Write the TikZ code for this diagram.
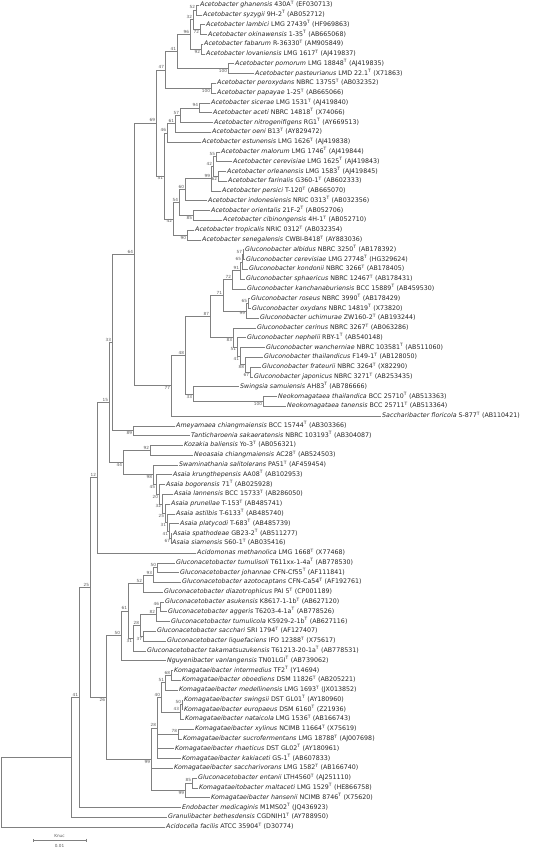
\documentclass[tikz,border=0pt]{standalone}
\usepackage{fontspec}
\setmainfont{DejaVu Sans}
\usetikzlibrary{arrows.meta}
\newcommand{\taxon}[3]{\textit{#1} #2\textsuperscript{T} (#3)}

\begin{document}
\begin{tikzpicture}[
	x=1pt, y=-1pt,
	branch/.style={ draw=black!50, line width=0.45pt },
	leaf/.style={ anchor=west, inner xsep=1.2pt, inner ysep=0pt, text=black!85, font=\fontsize{6.3}{7}\selectfont, text height=4.6pt, text depth=1.3pt },
	bs/.style={ inner sep=0.8pt, text=black!65, font=\fontsize{4.2}{4.2}\selectfont }
]
\useasboundingbox (0,0) rectangle (550,848);

% Acetobacter
\node[leaf] (ghanensis) at (198.8,5.0) {\taxon{Acetobacter ghanensis}{430A}{EF030713}};
\node[leaf] (syzygii) at (201.8,14.8) {\taxon{Acetobacter syzygii}{9H-2}{AB052712}};
\node[leaf] (lambici) at (204.8,24.6) {\taxon{Acetobacter lambici}{LMG 27439}{HF969863}};
\node[leaf] (okinawensis) at (206.8,34.4) {\taxon{Acetobacter okinawensis}{1-35}{AB665068}};
\node[leaf] (fabarum) at (202.8,44.1) {\taxon{Acetobacter fabarum}{R-36330}{AM905849}};
\node[leaf] (lovaniensis) at (204.8,53.9) {\taxon{Acetobacter lovaniensis}{LMG 1617}{AJ419837}};
\node[leaf] (pomorum) at (233.8,63.7) {\taxon{Acetobacter pomorum}{LMG 18848}{AJ419835}};
\node[leaf] (pasteurianus) at (253.8,73.5) {\taxon{Acetobacter pasteurianus}{LMD 22.1}{X71863}};
\node[leaf] (peroxydans) at (215.8,83.3) {\taxon{Acetobacter peroxydans}{NBRC 13755}{AB032352}};
\node[leaf] (papayae) at (215.8,93.1) {\taxon{Acetobacter papayae}{1-25}{AB665066}};
\node[leaf] (sicerae) at (209.8,102.9) {\taxon{Acetobacter sicerae}{LMG 1531}{AJ419840}};
\node[leaf] (aceti) at (211.8,112.6) {\taxon{Acetobacter aceti}{NBRC 14818}{X74066}};
\node[leaf] (nitrogenifigens) at (212.8,122.4) {\taxon{Acetobacter nitrogenifigens}{RG1}{AY669513}};
\node[leaf] (oeni) at (210.8,132.2) {\taxon{Acetobacter oeni}{B13}{AY829472}};
\node[leaf] (estunensis) at (200.8,142.0) {\taxon{Acetobacter estunensis}{LMG 1626}{AJ419838}};
\node[leaf] (malorum) at (219.8,151.8) {\taxon{Acetobacter malorum}{LMG 1746}{AJ419844}};
\node[leaf] (aCerevisiae) at (231.8,161.6) {\taxon{Acetobacter cerevisiae}{LMG 1625}{AJ419843}};
\node[leaf] (orleanensis) at (225.8,171.4) {\taxon{Acetobacter orleanensis}{LMG 1583}{AJ419845}};
\node[leaf] (farinalis) at (226.8,181.1) {\taxon{Acetobacter farinalis}{G360-1}{AB602333}};
\node[leaf] (persici) at (220.8,190.9) {\taxon{Acetobacter persici}{T-120}{AB665070}};
\node[leaf] (indonesiensis) at (206.8,200.7) {\taxon{Acetobacter indonesiensis}{NRIC 0313}{AB032356}};
\node[leaf] (orientalis) at (209.8,210.5) {\taxon{Acetobacter orientalis}{21F-2}{AB052706}};
\node[leaf] (cibinongensis) at (221.8,220.3) {\taxon{Acetobacter cibinongensis}{4H-1}{AB052710}};
\node[leaf] (tropicalis) at (193.8,230.1) {\taxon{Acetobacter tropicalis}{NRIC 0312}{AB032354}};
\node[leaf] (senegalensis) at (200.8,239.9) {\taxon{Acetobacter senegalensis}{CWBI-B418}{AY883036}};

\coordinate[label={[bs]above left:52}] (nGhSy) at (196,9.9);
\coordinate[label={[bs]below left:72}] (nLaOk) at (200,29.5);
\coordinate[label={[bs]above left:32}] (nA32) at (193,19.7);
\coordinate[label={[bs]below left:92}] (nFaLo) at (201,49.0);
\coordinate[label={[bs]above left:96}] (nA96) at (190,34.4);
\coordinate[label={[bs]below left:100}] (nPoPa) at (228,68.6);
\coordinate[label={[bs]above left:41}] (nA41) at (177,51.5);
\coordinate[label={[bs]below left:100}] (nPePa) at (211,88.2);
\coordinate[label={[bs]above left:47}] (nA47) at (165,69.9);
\coordinate[label={[bs]above left:94}] (nSiAc) at (199,107.8);
\coordinate[label={[bs]above left:57}] (nA57) at (180,115.1);
\coordinate[label={[bs]above left:61}] (nA61) at (175,123.7);
\coordinate[label={[bs]above left:46}] (nA46) at (167,132.8);
\coordinate[label={[bs]above left:55}] (nMaCe) at (216,156.7);
\coordinate[label={[bs]below left:62}] (nOrFa) at (218,176.3);
\coordinate[label={[bs]above left:42}] (nA42) at (213,166.5);
\coordinate[label={[bs]above left:99}] (nA99) at (211,178.7);
\coordinate[label={[bs]above left:60}] (nA60) at (185,189.7);
\coordinate[label={[bs]below left:85}] (nOrCi) at (193,215.4);
\coordinate[label={[bs]above left:54}] (nA54) at (179,202.6);
\coordinate[label={[bs]below left:90}] (nTrSe) at (187,235.0);
\coordinate[label={[bs]below left:42}] (nA42b) at (173,218.8);
\coordinate[label={[bs]below left:51}] (nA51) at (164,175.8);
\coordinate[label={[bs]above left:69}] (nA69) at (156,122.9);

\foreach \p in {ghanensis,syzygii} \draw[branch] (nGhSy) |- (\p);
\foreach \p in {lambici,okinawensis} \draw[branch] (nLaOk) |- (\p);
\foreach \p in {nGhSy,nLaOk} \draw[branch] (nA32) |- (\p);
\foreach \p in {fabarum,lovaniensis} \draw[branch] (nFaLo) |- (\p);
\foreach \p in {nA32,nFaLo} \draw[branch] (nA96) |- (\p);
\foreach \p in {pomorum,pasteurianus} \draw[branch] (nPoPa) |- (\p);
\foreach \p in {nA96,nPoPa} \draw[branch] (nA41) |- (\p);
\foreach \p in {peroxydans,papayae} \draw[branch] (nPePa) |- (\p);
\foreach \p in {nA41,nPePa} \draw[branch] (nA47) |- (\p);
\foreach \p in {sicerae,aceti} \draw[branch] (nSiAc) |- (\p);
\foreach \p in {nSiAc,nitrogenifigens} \draw[branch] (nA57) |- (\p);
\foreach \p in {nA57,oeni} \draw[branch] (nA61) |- (\p);
\foreach \p in {nA61,estunensis} \draw[branch] (nA46) |- (\p);
\foreach \p in {malorum,aCerevisiae} \draw[branch] (nMaCe) |- (\p);
\foreach \p in {orleanensis,farinalis} \draw[branch] (nOrFa) |- (\p);
\foreach \p in {nMaCe,nOrFa} \draw[branch] (nA42) |- (\p);
\foreach \p in {nA42,persici} \draw[branch] (nA99) |- (\p);
\foreach \p in {nA99,indonesiensis} \draw[branch] (nA60) |- (\p);
\foreach \p in {orientalis,cibinongensis} \draw[branch] (nOrCi) |- (\p);
\foreach \p in {nA60,nOrCi} \draw[branch] (nA54) |- (\p);
\foreach \p in {tropicalis,senegalensis} \draw[branch] (nTrSe) |- (\p);
\foreach \p in {nA54,nTrSe} \draw[branch] (nA42b) |- (\p);
\foreach \p in {nA46,nA42b} \draw[branch] (nA51) |- (\p);
\foreach \p in {nA47,nA51} \draw[branch] (nA69) |- (\p);

% Gluconobacter and relatives
\node[leaf] (albidus) at (243.8,249.7) {\taxon{Gluconobacter albidus}{NBRC 3250}{AB178392}};
\node[leaf] (gCerevisiae) at (244.8,259.4) {\taxon{Gluconobacter cerevisiae}{LMG 27748}{HG329624}};
\node[leaf] (kondonii) at (247.8,269.2) {\taxon{Gluconobacter kondonii}{NBRC 3266}{AB178405}};
\node[leaf] (sphaericus) at (244.8,279.0) {\taxon{Gluconobacter sphaericus}{NBRC 12467}{AB178431}};
\node[leaf] (kanchanaburiensis) at (245.8,288.8) {\taxon{Gluconobacter kanchanaburiensis}{BCC 15889}{AB459530}};
\node[leaf] (roseus) at (249.8,298.6) {\taxon{Gluconobacter roseus}{NBRC 3990}{AB178429}};
\node[leaf] (oxydans) at (250.8,308.4) {\taxon{Gluconobacter oxydans}{NBRC 14819}{X73820}};
\node[leaf] (uchimurae) at (258.8,318.1) {\taxon{Gluconobacter uchimurae}{ZW160-2}{AB193244}};
\node[leaf] (cerinus) at (255.8,327.9) {\taxon{Gluconobacter cerinus}{NBRC 3267}{AB063286}};
\node[leaf] (nephelii) at (245.8,337.7) {\taxon{Gluconobacter nephelii}{RBY-1}{AB540148}};
\node[leaf] (wancherniae) at (264.8,347.5) {\taxon{Gluconobacter wancherniae}{NBRC 103581}{AB511060}};
\node[leaf] (thailandicus) at (262.8,357.3) {\taxon{Gluconobacter thailandicus}{F149-1}{AB128050}};
\node[leaf] (frateurii) at (260.8,367.1) {\taxon{Gluconobacter frateurii}{NBRC 3264}{X82290}};
\node[leaf] (japonicus) at (252.8,376.9) {\taxon{Gluconobacter japonicus}{NBRC 3271}{AB253435}};
\node[leaf] (samuiensis) at (238.8,386.6) {\taxon{Swingsia samuiensis}{AH83}{AB786666}};
\node[leaf] (thailandica) at (276.8,396.4) {\taxon{Neokomagataea thailandica}{BCC 25710}{AB513363}};
\node[leaf] (tanensis) at (285.8,406.2) {\taxon{Neokomagataea tanensis}{BCC 25711}{AB513364}};
\node[leaf] (floricola) at (380.8,416.0) {\taxon{Saccharibacter floricola}{S-877}{AB110421}};

\coordinate[label={[bs]above left:57}] (nAlCe) at (243,254.5);
\coordinate[label={[bs]above left:65}] (nG65) at (242,261.9);
\coordinate[label={[bs]above left:91}] (nG91) at (240,270.4);
\coordinate[label={[bs]above left:72}] (nG72) at (232,279.6);
\coordinate[label={[bs]above left:65}] (nRoOx) at (248,303.5);
\coordinate[label={[bs]below left:99}] (nG99) at (246,310.8);
\coordinate[label={[bs]above left:71}] (nG71) at (223,295.2);
\coordinate[label={[bs]below left:67}] (nFrJa) at (250,372.0);
\coordinate[label={[bs]below left:88}] (nG88) at (245,364.7);
\coordinate[label={[bs]below left:41}] (nG41) at (240,356.1);
\coordinate[label={[bs]below left:51}] (nG51) at (237,346.9);
\coordinate[label={[bs]below left:83}] (nG83) at (233,337.4);
\coordinate[label={[bs]above left:87}] (nG87) at (210,316.3);
\coordinate[label={[bs]below left:100}] (nNeo) at (263,401.3);
\coordinate[label={[bs]below left:33}] (nSw33) at (193,394.0);
\coordinate[label={[bs]above left:48}] (nG48) at (185,355.1);
\coordinate[label={[bs]below left:77}] (nG77) at (171,385.6);
\coordinate[label={[bs]above left:64}] (nA64) at (134,254.3);

\foreach \p in {albidus,gCerevisiae} \draw[branch] (nAlCe) |- (\p);
\foreach \p in {nAlCe,kondonii} \draw[branch] (nG65) |- (\p);
\foreach \p in {nG65,sphaericus} \draw[branch] (nG91) |- (\p);
\foreach \p in {nG91,kanchanaburiensis} \draw[branch] (nG72) |- (\p);
\foreach \p in {roseus,oxydans} \draw[branch] (nRoOx) |- (\p);
\foreach \p in {nRoOx,uchimurae} \draw[branch] (nG99) |- (\p);
\foreach \p in {nG72,nG99} \draw[branch] (nG71) |- (\p);
\foreach \p in {frateurii,japonicus} \draw[branch] (nFrJa) |- (\p);
\foreach \p in {thailandicus,nFrJa} \draw[branch] (nG88) |- (\p);
\foreach \p in {wancherniae,nG88} \draw[branch] (nG41) |- (\p);
\foreach \p in {nephelii,nG41} \draw[branch] (nG51) |- (\p);
\foreach \p in {cerinus,nG51} \draw[branch] (nG83) |- (\p);
\foreach \p in {nG71,nG83} \draw[branch] (nG87) |- (\p);
\foreach \p in {thailandica,tanensis} \draw[branch] (nNeo) |- (\p);
\foreach \p in {samuiensis,nNeo} \draw[branch] (nSw33) |- (\p);
\foreach \p in {nG87,nSw33} \draw[branch] (nG48) |- (\p);
\foreach \p in {nG48,floricola} \draw[branch] (nG77) |- (\p);
\foreach \p in {nA69,nG77} \draw[branch] (nA64) |- (\p);

% Ameyamaea to Acidomonas
\node[leaf] (amChiangmaiensis) at (174.8,425.8) {\taxon{Ameyamaea chiangmaiensis}{BCC 15744}{AB303366}};
\node[leaf] (sakaeratensis) at (189.8,435.6) {\taxon{Tanticharoenia sakaeratensis}{NBRC 103193}{AB304087}};
\node[leaf] (baliensis) at (182.8,445.3) {\taxon{Kozakia baliensis}{Yo-3}{AB056321}};
\node[leaf] (neChiangmaiensis) at (192.8,455.1) {\taxon{Neoasaia chiangmaiensis}{AC28}{AB524503}};
\node[leaf] (salitolerans) at (177.8,464.9) {\taxon{Swaminathania salitolerans}{PA51}{AF459454}};
\node[leaf] (krungthepensis) at (171.8,474.7) {\taxon{Asaia krungthepensis}{AA08}{AB102953}};
\node[leaf] (bogorensis) at (164.8,484.5) {\taxon{Asaia bogorensis}{71}{AB025928}};
\node[leaf] (lannensis) at (172.8,494.3) {\taxon{Asaia lannensis}{BCC 15733}{AB286050}};
\node[leaf] (prunellae) at (169.8,504.1) {\taxon{Asaia prunellae}{T-153}{AB485741}};
\node[leaf] (astilbis) at (174.8,513.8) {\taxon{Asaia astilbis}{T-6133}{AB485740}};
\node[leaf] (platycodi) at (178.8,523.6) {\taxon{Asaia platycodi}{T-683}{AB485739}};
\node[leaf] (spathodeae) at (171.8,533.4) {\taxon{Asaia spathodeae}{GB23-2}{AB511277}};
\node[leaf] (siamensis) at (170.8,543.2) {\taxon{Asaia siamensis}{S60-1}{AB035416}};
\node[leaf] (methanolica) at (195.8,553.0) {\taxon{Acidomonas methanolica}{LMG 1668}{X77468}};

\coordinate[label={[bs]below left:89}] (nAmTa) at (133,430.7);
\coordinate[label={[bs]above left:33}] (nB33) at (112,342.5);
\coordinate[label={[bs]above left:92}] (nKoNe) at (150,450.2);
\coordinate[label={[bs]below left:67}] (nAs67) at (171,538.3);
\coordinate[label={[bs]below left:41}] (nAs41) at (169,531.0);
\coordinate[label={[bs]below left:31}] (nAs31) at (167,522.4);
\coordinate[label={[bs]below left:25}] (nAs25) at (165,513.2);
\coordinate[label={[bs]below left:32}] (nAs32) at (162,503.8);
\coordinate[label={[bs]below left:20}] (nAs20) at (159,494.1);
\coordinate[label={[bs]below left:45}] (nAs45) at (156,484.4);
\coordinate[label={[bs]below left:98}] (nAs98) at (153,474.7);
\coordinate[label={[bs]below left:44}] (nB44) at (123,462.4);
\coordinate[label={[bs]above left:15}] (nB15) at (109,402.5);
\coordinate[label={[bs]above left:12}] (nB12) at (97,477.7);

\foreach \p in {amChiangmaiensis,sakaeratensis} \draw[branch] (nAmTa) |- (\p);
\foreach \p in {nA64,nAmTa} \draw[branch] (nB33) |- (\p);
\foreach \p in {baliensis,neChiangmaiensis} \draw[branch] (nKoNe) |- (\p);
\foreach \p in {spathodeae,siamensis} \draw[branch] (nAs67) |- (\p);
\foreach \p in {platycodi,nAs67} \draw[branch] (nAs41) |- (\p);
\foreach \p in {astilbis,nAs41} \draw[branch] (nAs31) |- (\p);
\foreach \p in {prunellae,nAs31} \draw[branch] (nAs25) |- (\p);
\foreach \p in {lannensis,nAs25} \draw[branch] (nAs32) |- (\p);
\foreach \p in {bogorensis,nAs32} \draw[branch] (nAs20) |- (\p);
\foreach \p in {krungthepensis,nAs20} \draw[branch] (nAs45) |- (\p);
\foreach \p in {salitolerans,nAs45} \draw[branch] (nAs98) |- (\p);
\foreach \p in {nKoNe,nAs98} \draw[branch] (nB44) |- (\p);
\foreach \p in {nB33,nB44} \draw[branch] (nB15) |- (\p);
\foreach \p in {nB15,methanolica} \draw[branch] (nB12) |- (\p);

% Gluconacetobacter and Nguyenibacter
\node[leaf] (tumulisoli) at (174.8,562.8) {\taxon{Gluconacetobacter tumulisoli}{T611xx-1-4a}{AB778530}};
\node[leaf] (johannae) at (178.8,572.6) {\taxon{Gluconacetobacter johannae}{CFN-Cf55}{AF111841}};
\node[leaf] (azotocaptans) at (180.8,582.3) {\taxon{Gluconacetobacter azotocaptans}{CFN-Ca54}{AF192761}};
\node[leaf] (diazotrophicus) at (162.8,592.1) {\taxon{Gluconacetobacter diazotrophicus}{PAI 5}{CP001189}};
\node[leaf] (asukensis) at (163.8,601.9) {\taxon{Gluconacetobacter asukensis}{K8617-1-1b}{AB627120}};
\node[leaf] (aggeris) at (166.8,611.7) {\taxon{Gluconacetobacter aggeris}{T6203-4-1a}{AB778526}};
\node[leaf] (tumulicola) at (169.8,621.5) {\taxon{Gluconacetobacter tumulicola}{K5929-2-1b}{AB627116}};
\node[leaf] (sacchari) at (155.8,631.3) {\taxon{Gluconacetobacter sacchari}{SRI 1794}{AF127407}};
\node[leaf] (liquefaciens) at (165.8,641.0) {\taxon{Gluconacetobacter liquefaciens}{IFO 12388}{X75617}};
\node[leaf] (takamatsuzukensis) at (145.8,650.8) {\taxon{Gluconacetobacter takamatsuzukensis}{T61213-20-1a}{AB778531}};
\node[leaf] (vanlangensis) at (165.8,660.6) {\taxon{Nguyenibacter vanlangensis}{TN01LGI}{AB739062}};

\coordinate[label={[bs]above left:50}] (nTuJo) at (157,567.7);
\coordinate[label={[bs]above left:93}] (nGa93) at (153,575.2);
\coordinate[label={[bs]above left:52}] (nGa52) at (143,583.6);
\coordinate[label={[bs]above left:46}] (nAsAg) at (160,606.8);
\coordinate[label={[bs]above left:82}] (nGa82) at (156,614.1);
\coordinate[label={[bs]below left:37}] (nSaLi) at (143,636.2);
\coordinate[label={[bs]above left:28}] (nGa28) at (140,625.2);
\coordinate[label={[bs]below left:31}] (nGa31) at (133,638.0);
\coordinate[label={[bs]above left:61}] (nGa61) at (128,610.8);
\coordinate[label={[bs]above left:50}] (nGa50) at (121,635.7);

\foreach \p in {tumulisoli,johannae} \draw[branch] (nTuJo) |- (\p);
\foreach \p in {nTuJo,azotocaptans} \draw[branch] (nGa93) |- (\p);
\foreach \p in {nGa93,diazotrophicus} \draw[branch] (nGa52) |- (\p);
\foreach \p in {asukensis,aggeris} \draw[branch] (nAsAg) |- (\p);
\foreach \p in {nAsAg,tumulicola} \draw[branch] (nGa82) |- (\p);
\foreach \p in {sacchari,liquefaciens} \draw[branch] (nSaLi) |- (\p);
\foreach \p in {nGa82,nSaLi} \draw[branch] (nGa28) |- (\p);
\foreach \p in {nGa28,takamatsuzukensis} \draw[branch] (nGa31) |- (\p);
\foreach \p in {nGa52,nGa31} \draw[branch] (nGa61) |- (\p);
\foreach \p in {nGa61,vanlangensis} \draw[branch] (nGa50) |- (\p);

% Komagataeibacter
\node[leaf] (intermedius) at (172.8,670.4) {\taxon{Komagataeibacter intermedius}{TF2}{Y14694}};
\node[leaf] (oboediens) at (180.8,680.2) {\taxon{Komagataeibacter oboediens}{DSM 11826}{AB205221}};
\node[leaf] (medellinensis) at (177.8,690.0) {\taxon{Komagataeibacter medellinensis}{LMG 1693}{JX013852}};
\node[leaf] (swingsii) at (182.8,699.8) {\taxon{Komagataeibacter swingsii}{DST GL01}{AY180960}};
\node[leaf] (europaeus) at (182.8,709.5) {\taxon{Komagataeibacter europaeus}{DSM 6160}{Z21936}};
\node[leaf] (nataicola) at (183.8,719.3) {\taxon{Komagataeibacter nataicola}{LMG 1536}{AB166743}};
\node[leaf] (xylinus) at (193.8,729.1) {\taxon{Komagataeibacter xylinus}{NCIMB 11664}{X75619}};
\node[leaf] (sucrofermentans) at (181.8,738.9) {\taxon{Komagataeibacter sucrofermentans}{LMG 18788}{AJ007698}};
\node[leaf] (rhaeticus) at (173.8,748.7) {\taxon{Komagataeibacter rhaeticus}{DST GL02}{AY180961}};
\node[leaf] (kakiaceti) at (180.8,758.5) {\taxon{Komagataeibacter kakiaceti}{GS-1}{AB607833}};
\node[leaf] (saccharivorans) at (172.8,768.3) {\taxon{Komagataeibacter saccharivorans}{LMG 1582}{AB166740}};
\node[leaf] (entanii) at (196.8,778.0) {\taxon{Gluconacetobacter entanii}{LTH4560}{AJ251110}};
\node[leaf] (maltaceti) at (197.8,787.8) {\taxon{Komagataeitobacter maltaceti}{LMG 1529}{HE866758}};
\node[leaf] (hansenii) at (209.8,797.6) {\taxon{Komagataeibacter hansenii}{NCIMB 8746}{X75620}};

\coordinate[label={[bs]above left:68}] (nInOb) at (171,675.3);
\coordinate[label={[bs]above left:51}] (nK51) at (165,682.7);
\coordinate[label={[bs]above left:50}] (nSwEu) at (182,704.7);
\coordinate[label={[bs]above left:43}] (nK43) at (180,712.0);
\coordinate[label={[bs]above left:40}] (nK40) at (161,697.4);
\coordinate[label={[bs]above left:78}] (nXySu) at (178,734.0);
\coordinate[label={[bs]above left:28}] (nK28) at (157,728.0);
\coordinate[label={[bs]above left:85}] (nEnMa) at (192,782.9);
\coordinate[label={[bs]below left:99}] (nK99b) at (185,790.3);
\coordinate[label={[bs]below left:99}] (nK99) at (151,759.2);

\foreach \p in {intermedius,oboediens} \draw[branch] (nInOb) |- (\p);
\foreach \p in {nInOb,medellinensis} \draw[branch] (nK51) |- (\p);
\foreach \p in {swingsii,europaeus} \draw[branch] (nSwEu) |- (\p);
\foreach \p in {nSwEu,nataicola} \draw[branch] (nK43) |- (\p);
\foreach \p in {nK51,nK43} \draw[branch] (nK40) |- (\p);
\foreach \p in {xylinus,sucrofermentans} \draw[branch] (nXySu) |- (\p);
\foreach \p in {nK40,nXySu,rhaeticus,kakiaceti} \draw[branch] (nK28) |- (\p);
\foreach \p in {entanii,maltaceti} \draw[branch] (nEnMa) |- (\p);
\foreach \p in {nEnMa,hansenii} \draw[branch] (nK99b) |- (\p);
\foreach \p in {nK28,saccharivorans,nK99b} \draw[branch] (nK99) |- (\p);

% deep branches and outgroup
\node[leaf] (medicaginis) at (180.8,807.4) {\taxon{Endobacter medicaginis}{M1MS02}{JQ436923}};
\node[leaf] (bethesdensis) at (166.8,817.2) {\taxon{Granulibacter bethesdensis}{CGDNIH1}{AY788950}};
\node[leaf] (facilis) at (164.8,827.0) {\taxon{Acidocella facilis}{ATCC 35904}{D30774}};

\coordinate[label={[bs]below left:26}] (nB26) at (106,697.4);
\coordinate[label={[bs]above left:25}] (nB25) at (90,587.6);
\coordinate[label={[bs]above left:41}] (nB41) at (79,697.5);
\coordinate (nIn) at (71,757.4);
\coordinate (root) at (1,792.2);

\foreach \p in {nGa50,nK99} \draw[branch] (nB26) |- (\p);
\foreach \p in {nB12,nB26} \draw[branch] (nB25) |- (\p);
\foreach \p in {nB25,medicaginis} \draw[branch] (nB41) |- (\p);
\foreach \p in {nB41,bethesdensis} \draw[branch] (nIn) |- (\p);
\foreach \p in {nIn,facilis} \draw[branch] (root) |- (\p);

% scale bar
\coordinate (barL) at (33,840);
\coordinate (barR) at (86,840);
\draw[branch, {Bar[width=3pt]}-{Bar[width=3pt]}] (barL) -- (barR);
\node[bs] (knuc) at (59.5,835.5) {Knuc};
\node[bs] (scale) at (59.5,845.5) {0.01};

\end{tikzpicture}
\end{document}
